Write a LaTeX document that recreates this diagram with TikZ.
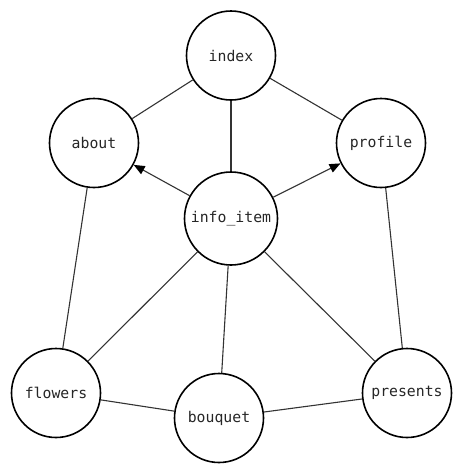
\documentclass[tikz,border=0pt]{standalone}
\usepackage{fontspec}
\setmonofont{DejaVu Sans Mono}
\usetikzlibrary{arrows.meta}
\begin{document}
\begin{tikzpicture}[x=1pt,y=-1pt,
  vnode/.style={circle,draw=black,line width=1.6pt,minimum size=89pt,inner sep=0pt,
    font=\ttfamily\fontsize{14.8}{16}\selectfont,text=black!85},
  edge/.style={draw=black!80,line width=1.1pt},
  arr/.style={edge,-{Triangle[length=11pt,width=9pt,color=black]}}]
\useasboundingbox (0,0) rectangle (463,475);
\node[vnode] (index) at (231,55.5) {index};
\node[vnode] (about) at (94,143) {about};
\node[vnode] (profile) at (381,143) {profile};
\node[vnode,minimum size=93pt] (info) at (231,218.5) {info\_item};
\node[vnode] (flowers) at (56,393) {flowers};
\node[vnode] (bouquet) at (219,418) {bouquet};
\node[vnode] (presents) at (407,393) {presents};
\draw[edge] (index) -- (about);
\draw[edge] (index) -- (profile);
\draw[edge] (index) -- (info);
\draw[arr] (info) -- (about);
\draw[arr] (info) -- (profile);
\draw[edge] (about) -- (flowers);
\draw[edge] (profile) -- (presents);
\draw[edge] (info) -- (flowers);
\draw[edge] (info) -- (bouquet);
\draw[edge] (info) -- (presents);
\draw[edge] (flowers) -- (bouquet);
\draw[edge] (bouquet) -- (presents);
\end{tikzpicture}
\end{document}
